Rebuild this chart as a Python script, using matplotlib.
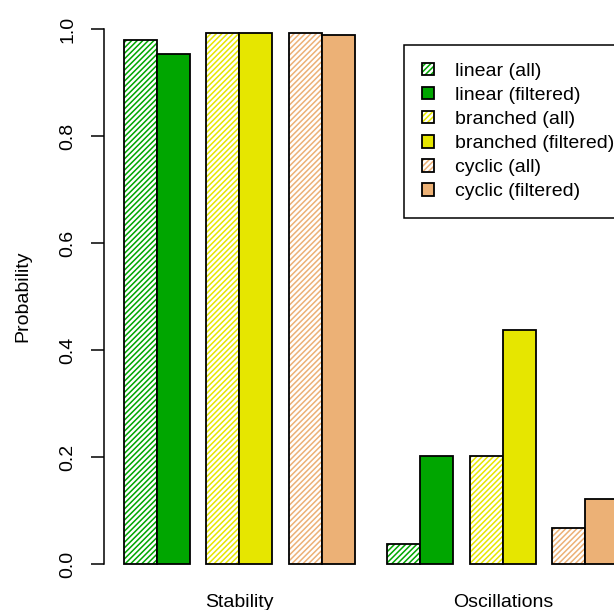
import numpy as np
import matplotlib
matplotlib.use("Agg")
import matplotlib.pyplot as plt
from matplotlib.patches import Patch
from matplotlib.legend_handler import HandlerTuple

plt.rcParams['font.family'] = ['Liberation Sans', 'DejaVu Sans']
plt.rcParams['hatch.linewidth'] = 1.1

categories = ["Stability", "Oscillations"]
series_names = ["linear (all)", "linear (filtered)", "branched (all)",
                "branched (filtered)", "cyclic (all)", "cyclic (filtered)"]
linear_all = [0.979, 0.037]
linear_filtered = [0.954, 0.201]
branched_all = [0.993, 0.201]
branched_filtered = [0.993, 0.437]
cyclic_all = [0.992, 0.068]
cyclic_filtered = [0.988, 0.121]
y_ticks = [0.0, 0.2, 0.4, 0.6, 0.8, 1.0]

series = [linear_all, linear_filtered, branched_all,
          branched_filtered, cyclic_all, cyclic_filtered]
colors = ["#00A600", "#00A600", "#E6E600", "#E6E600", "#ECB176", "#ECB176"]
hatched = [True, False, True, False, True, False]
HATCH = '//////'

# bar left edges in bar-width units: pairs separated by 0.5, groups by 1
offsets = [0, 1, 2.5, 3.5, 5, 6]
group_start = [0, 8]

fig = plt.figure(figsize=(6.14, 6.10), dpi=100)
ax = fig.add_axes([104 / 614, (610 - 585.4) / 610, 534 / 614, 577.8 / 610])

for s, vals in enumerate(series):
    for g, v in enumerate(vals):
        x = group_start[g] + offsets[s]
        if hatched[s]:
            ax.bar(x, v, width=1, align='edge', facecolor='white',
                   edgecolor=colors[s], hatch=HATCH, linewidth=0)
            ax.bar(x, v, width=1, align='edge', facecolor='none',
                   edgecolor='black', linewidth=1.3)
        else:
            ax.bar(x, v, width=1, align='edge', facecolor=colors[s],
                   edgecolor='black', linewidth=1.3)

ax.set_xlim(-0.6, 15.6)
ax.set_ylim(-0.04, 1.04)
for side in ['top', 'right', 'bottom']:
    ax.spines[side].set_visible(False)
ax.spines['left'].set_bounds(0, 1)
ax.spines['left'].set_linewidth(1.1)
ax.set_yticks(y_ticks)
ax.set_yticklabels([f"{t:.1f}" for t in y_ticks], rotation=90, va='center')
ax.tick_params(axis='y', length=9.5, width=1.1, labelsize=14, pad=10.5)
ax.set_xticks([group_start[0] + 3.5, group_start[1] + 3.5])
ax.set_xticklabels(categories)
ax.tick_params(axis='x', length=0, labelsize=14, pad=6)
ax.set_ylabel("Probability", fontsize=14, labelpad=20)

handles = []
for s in range(len(series)):
    if hatched[s]:
        h = (Patch(facecolor='white', edgecolor=colors[s], hatch=HATCH, linewidth=0),
             Patch(facecolor='none', edgecolor='black', linewidth=1.3))
    else:
        h = Patch(facecolor=colors[s], edgecolor='black', linewidth=1.3)
    handles.append(h)

leg = fig.legend(handles, series_names, loc='upper left',
                 bbox_to_anchor=(404 / 614, 1 - 45 / 610), fontsize=14,
                 handler_map={tuple: HandlerTuple(ndivide=1)},
                 handlelength=0.62, handleheight=0.62, handletextpad=1.1,
                 labelspacing=0.36, borderpad=0.9, borderaxespad=0,
                 fancybox=False, framealpha=1, edgecolor='black')
leg.get_frame().set_linewidth(1.1)

fig.savefig("out.png", dpi=100)
